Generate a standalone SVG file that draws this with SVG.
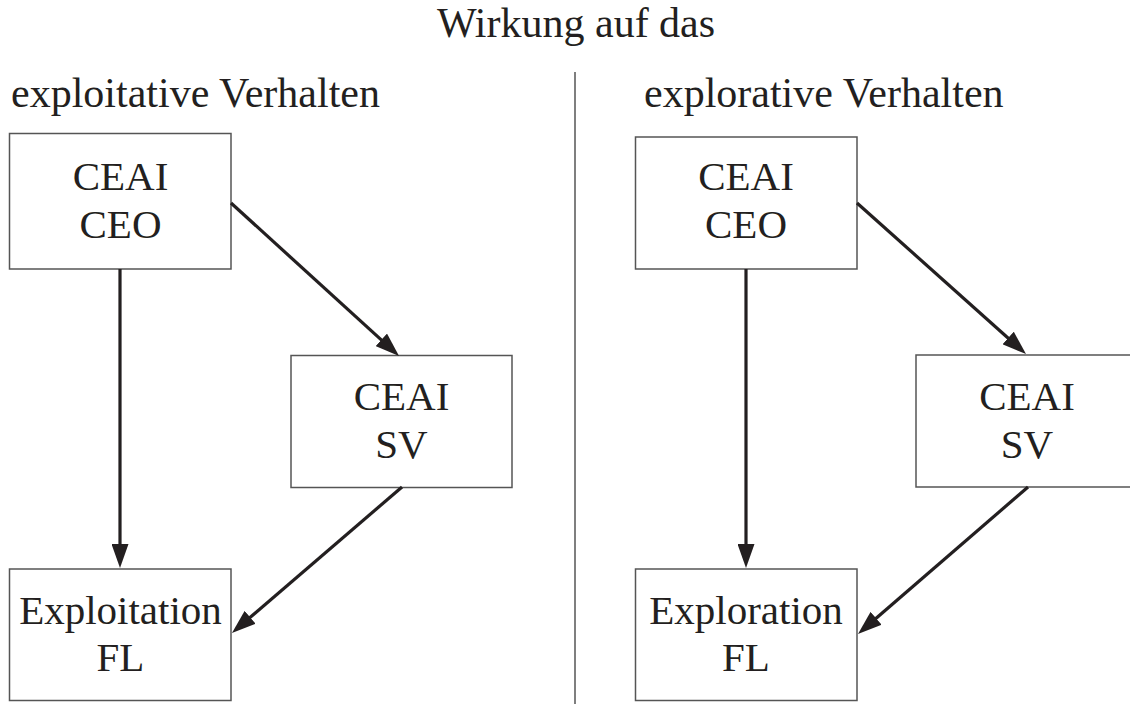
<svg xmlns="http://www.w3.org/2000/svg" width="1130" height="704" viewBox="0 0 1130 704">
<style>
text{font-family:"Liberation Serif","Times New Roman",serif;fill:#231f20;font-size:41px}
.head{font-size:42px}
.box{fill:#fff;stroke:#555;stroke-width:1.5}
.lbl{text-anchor:middle}
.conn line{stroke:#231f20;stroke-width:3.2;marker-end:url(#ah)}
</style>
<defs>
<marker id="ah" viewBox="0 0 24 17" refX="13" refY="8.5" markerWidth="24" markerHeight="17" markerUnits="userSpaceOnUse" orient="auto">
<path d="M0,0 L24,8.5 L0,17 z" fill="#231f20"/>
</marker>
</defs>
<rect width="1130" height="704" fill="#fff"/>
<g id="titles">
<text x="576" y="37" class="lbl head">Wirkung auf das</text>
<text x="11" y="107" class="head">exploitative Verhalten</text>
<text x="644" y="107" class="head">explorative Verhalten</text>
<line x1="575" y1="72" x2="575" y2="704" stroke="#555" stroke-width="1.5"/>
</g>
<g id="left-ceo"><rect class="box" x="9.5" y="133.5" width="221.5" height="135.5"/><text class="lbl" x="120.5" y="190">CEAI</text><text class="lbl" x="120.5" y="238">CEO</text></g>
<g id="left-sv"><rect class="box" x="291" y="355.5" width="221" height="132"/><text class="lbl" x="401.5" y="410">CEAI</text><text class="lbl" x="401.5" y="458">SV</text></g>
<g id="left-fl"><rect class="box" x="9.5" y="569" width="221.5" height="131.5"/><text class="lbl" x="120.5" y="624">Exploitation</text><text class="lbl" x="120.5" y="671">FL</text></g>
<g id="right-ceo"><rect class="box" x="635.5" y="137" width="221.5" height="132"/><text class="lbl" x="746" y="190">CEAI</text><text class="lbl" x="746" y="238">CEO</text></g>
<g id="right-sv"><rect class="box" x="916" y="355" width="222" height="132"/><text class="lbl" x="1027" y="410">CEAI</text><text class="lbl" x="1027" y="458">SV</text></g>
<g id="right-fl"><rect class="box" x="635.5" y="569" width="221.5" height="131.5"/><text class="lbl" x="746" y="624">Exploration</text><text class="lbl" x="746" y="671">FL</text></g>
<g id="connectors" class="conn">
<line x1="120" y1="269" x2="120" y2="557"/>
<line x1="231" y1="203" x2="390.9" y2="348.6"/>
<line x1="402" y1="487" x2="240.3" y2="625.8"/>
<line x1="746" y1="269" x2="746" y2="557"/>
<line x1="857" y1="203" x2="1017.8" y2="346.7"/>
<line x1="1028" y1="487" x2="866.3" y2="626.8"/>
</g>
</svg>
